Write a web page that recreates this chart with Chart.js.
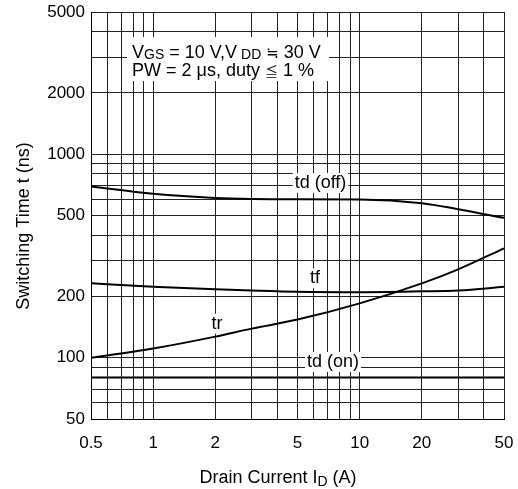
<!DOCTYPE html>
<html>
<head>
<meta charset="utf-8">
<script src="https://cdn.jsdelivr.net/npm/chart.js@4.4.0/dist/chart.umd.min.js"></script>
<style>
html, body { margin: 0; padding: 0; background: #fff; }
</style>
</head>
<body>
<canvas id="chart" width="518" height="489"></canvas>
<script>
// values
var currents = [0.5, 1, 2, 3, 5, 10, 20, 30, 50];
var tdOff = [695, 640, 610, 603, 601, 600, 575, 537, 487];
var tf = [232, 223, 217, 214, 211, 210, 212, 214, 223];
var tr = [100, 111, 127, 139, 154, 185, 232, 272, 345];
var tdOn = [80, 80, 80, 80, 80, 80, 80, 80, 80];

var xGrid = [0.5, 0.6, 0.7, 0.8, 0.9, 1, 2, 3, 4, 5, 6, 7, 8, 9, 10, 20, 30, 40, 50];
var yGrid = [50, 60, 70, 80, 90, 100, 200, 300, 400, 500, 600, 700, 800, 900, 1000, 2000, 3000, 4000, 5000];
var xLabels = [0.5, 1, 2, 5, 10, 20, 50];
var yLabels = [50, 100, 200, 500, 1000, 2000, 5000];

var curveNames = ['td (off)', 'tf', 'tr', 'td (on)'];
var nameX = [6.46, 6.08, 2.04, 7.43];
var nameY = [722, 246, 147, 95.3];

var FONT = "'Liberation Sans', Arial, sans-serif";
var SYM = "'Noto Sans CJK JP', 'DejaVu Sans', sans-serif";

function points(ys) {
    return currents.map(function (c, i) { return { x: c, y: ys[i] }; });
}

function lineSet(label, ys) {
    return {
        label: label,
        data: points(ys),
        borderColor: '#000',
        borderWidth: 2,
        pointRadius: 0,
        fill: false,
        cubicInterpolationMode: 'monotone'
    };
}

// draw runs of [text, size, dy, family] from x on one baseline
function drawRuns(ctx, runs, x, base) {
    runs.forEach(function (r) {
        ctx.font = r[1] + 'px ' + (r[3] || FONT);
        ctx.fillText(r[0], x, base + r[2]);
        x += ctx.measureText(r[0]).width;
    });
    return x;
}

function runsWidth(ctx, runs) {
    var w = 0;
    runs.forEach(function (r) {
        ctx.font = r[1] + 'px ' + (r[3] || FONT);
        w += ctx.measureText(r[0]).width;
    });
    return w;
}

// white-backed labels, the condition note and both axis titles
var textPlugin = {
    id: 'texts',
    beforeDatasetsDraw: function (chart) {
        var ctx = chart.ctx;
        var xs = chart.scales.x, ys = chart.scales.y;
        ctx.save();

        // condition box
        ctx.fillStyle = '#fff';
        ctx.fillRect(127, 37, 202, 44);
        ctx.fillStyle = '#000';
        ctx.textBaseline = 'alphabetic';
        ctx.textAlign = 'left';
        drawRuns(ctx, [
            ['V', 18, 0], ['GS', 14, 1], [' = 10 V,V', 18, 0], [' DD', 14, 1], [' ', 18, 0],
            ['\u2252', 15, 0, SYM], [' 30 V', 18, 0]
        ], 132, 58);
        drawRuns(ctx, [
            ['PW = 2 \u03bcs, duty ', 18, 0], ['\u2266', 13, 0, SYM], [' 1 %', 18, 0]
        ], 132, 76);

        // curve names
        ctx.font = '18px ' + FONT;
        ctx.textAlign = 'center';
        ctx.textBaseline = 'middle';
        curveNames.forEach(function (name, i) {
            var px = xs.getPixelForValue(nameX[i]);
            var py = ys.getPixelForValue(nameY[i]);
            var w = ctx.measureText(name).width + 4;
            ctx.fillStyle = '#fff';
            ctx.fillRect(px - w / 2, py - 10, w, 20);
            ctx.fillStyle = '#000';
            ctx.fillText(name, px, py);
        });

        // y title
        ctx.save();
        ctx.translate(24, 226);
        ctx.rotate(-Math.PI / 2);
        ctx.font = '18px ' + FONT;
        ctx.fillText('Switching Time t (ns)', 0, 0);
        ctx.restore();

        // x title with subscript
        ctx.textAlign = 'left';
        ctx.textBaseline = 'alphabetic';
        var segs = [['Drain Current I', 18, 0], ['D', 14, 3], [' (A)', 18, 0]];
        drawRuns(ctx, segs, 278 - runsWidth(ctx, segs) / 2, 483);
        ctx.restore();
    }
};

var gridOpts = { color: '#222', lineWidth: 1, drawTicks: false };
var borderOpts = { display: true, color: '#000', width: 1 };

new Chart(document.getElementById('chart'), {
    type: 'line',
    data: {
        datasets: [
            lineSet('td (off)', tdOff),
            lineSet('tf', tf),
            lineSet('tr', tr),
            lineSet('td (on)', tdOn)
        ]
    },
    options: {
        responsive: false,
        animation: false,
        devicePixelRatio: 1,
        layout: { padding: { left: 0, right: 14, top: 12, bottom: 0 } },
        plugins: { legend: { display: false }, tooltip: { enabled: false } },
        scales: {
            x: {
                type: 'logarithmic',
                min: 0.5,
                max: 50,
                grid: gridOpts,
                border: borderOpts,
                afterBuildTicks: function (scale) {
                    scale.ticks = xGrid.map(function (v) { return { value: v }; });
                },
                afterFit: function (scale) {
                    scale.height = 70;
                    scale.paddingLeft = 0;
                    scale.paddingRight = 0;
                },
                ticks: {
                    autoSkip: false,
                    maxRotation: 0,
                    padding: 14,
                    color: '#000',
                    font: { family: FONT, size: 17 },
                    callback: function (v) { return xLabels.indexOf(v) >= 0 ? String(v) : ''; }
                }
            },
            y: {
                type: 'logarithmic',
                min: 50,
                max: 5000,
                grid: gridOpts,
                border: borderOpts,
                afterBuildTicks: function (scale) {
                    scale.ticks = yGrid.map(function (v) { return { value: v }; });
                },
                afterFit: function (scale) {
                    scale.width = 91;
                    scale.paddingTop = 0;
                    scale.paddingBottom = 0;
                },
                ticks: {
                    autoSkip: false,
                    padding: 6,
                    color: '#000',
                    font: { family: FONT, size: 17 },
                    callback: function (v) { return yLabels.indexOf(v) >= 0 ? String(v) : ''; }
                }
            }
        }
    },
    plugins: [textPlugin]
});
</script>
</body>
</html>
